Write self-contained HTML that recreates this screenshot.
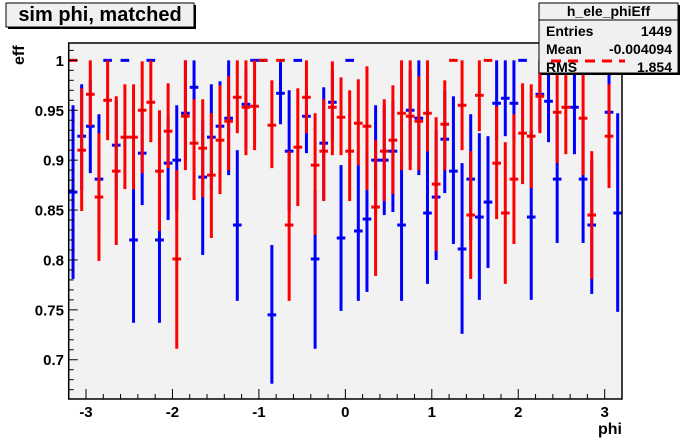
<!DOCTYPE html>
<html><head><meta charset="utf-8"><style>
html,body{margin:0;padding:0;background:#fff;}
svg{display:block;font-family:"Liberation Sans",Arial,sans-serif;font-weight:bold;}
</style></head><body>
<svg id="c" width="692" height="444" viewBox="0 0 692 444">
<rect x="68.7" y="43" width="553.3" height="356" fill="#f2f2f2"/>
<g id="marks"></g>
<rect x="68.7" y="43" width="553.3" height="356" fill="none" stroke="#000" stroke-width="1.5"/>
<g id="axes"></g>
<text x="24" y="65" font-size="16" transform="rotate(-90 24 65)" text-anchor="start">eff</text>
<text x="622" y="434" font-size="16" text-anchor="end">phi</text>
<g>
<rect x="8" y="5" width="188" height="24" fill="#000"/>
<rect x="6" y="3" width="188" height="24" fill="#f0f0f0" stroke="#000" stroke-width="1"/>
<text x="100" y="21" font-size="20" text-anchor="middle">sim phi, matched</text>
</g>
<g>
<rect x="541" y="5" width="139" height="70" fill="#000"/>
<rect x="539" y="3" width="139" height="70" fill="#f0f0f0" stroke="#000" stroke-width="1"/>
<line x1="539" y1="20" x2="678" y2="20" stroke="#000" stroke-width="1"/>
<text x="608.5" y="16" font-size="14" text-anchor="middle">h_ele_phiEff</text>
<text x="546" y="36" font-size="14">Entries</text>
<text x="672" y="36" font-size="14" text-anchor="end">1449</text>
<text x="546" y="54" font-size="14">Mean</text>
<text x="672" y="54" font-size="14" text-anchor="end">-0.004094</text>
<text x="546" y="72" font-size="14">RMS</text>
<text x="672" y="72" font-size="14" text-anchor="end">1.854</text>
</g>
</svg>
<script>
const phi = [-3.15,-3.05,-2.95,-2.85,-2.75,-2.65,-2.55,-2.45,-2.35,-2.25,-2.15,-2.05,-1.95,-1.85,-1.75,-1.65,-1.55,-1.45,-1.35,-1.25,-1.15,-1.05,-0.95,-0.85,-0.75,-0.65,-0.55,-0.45,-0.35,-0.25,-0.15,-0.05,0.05,0.15,0.25,0.35,0.45,0.55,0.65,0.75,0.85,0.95,1.05,1.15,1.25,1.35,1.45,1.55,1.65,1.75,1.85,1.95,2.05,2.15,2.25,2.35,2.45,2.55,2.65,2.75,2.85,2.95,3.05,3.15];
const blueVal = [.868,.924,.934,.881,1,.915,1,.820,.907,1,.820,.897,.900,.947,.973,.883,.923,.934,.942,.835,.956,1,1,.745,.967,.909,1,.944,.801,.917,.958,.822,1,.829,.841,.900,.900,.909,.835,.950,.942,.847,.863,.921,.889,.811,.881,.843,.858,.957,.962,.957,1,.843,.966,.959,.881,1,.953,.881,.835,1,.948,.847];
const blueLo = [.781,.87,.887,.83,1,.86,1,.737,.855,1,.737,.840,.850,.90,.93,.805,.87,.885,.885,.759,.91,1,1,.676,.936,.85,1,.907,.711,.86,.92,.749,1,.759,.768,.845,.845,.848,.759,.90,.885,.776,.80,.867,.816,.726,.82,.760,.792,.92,.924,.92,1,.760,.93,.918,.817,1,.906,.817,.766,1,.89,.748];
const blueHi = [.955,.976,.98,.946,1,.96,1,.871,.95,1,.87,.945,.955,1,1,.94,.976,.979,1,.910,.99,1,1,.815,1,.97,1,.973,.87,.973,.99,.895,1,.895,.91,.955,.955,.96,.910,.99,1,.909,.93,.97,.964,.897,.946,.927,.924,1,1,1,1,.93,1,1,.945,1,1,.945,.90,1,.99,.947];
const redVal = [1,.910,.966,.863,.960,.889,.923,.923,.950,.958,.889,.929,.801,.944,.917,.912,.885,.920,.939,.963,.953,.954,1,.935,1,.835,.913,.963,.895,.909,.953,.943,.909,.937,.934,.853,.909,.920,.947,.944,.939,.947,.876,.936,1,.955,.845,.965,1,.897,.847,.881,.927,.924,.964,1,.948,.953,1,.942,.845,1,.924,1];
const redLo = [1,.849,.934,.799,.920,.815,.871,.871,.887,.918,.829,.892,.711,.890,.860,.863,.822,.866,.89,.927,.905,.910,1,.892,1,.759,.854,.927,.825,.859,.905,.905,.859,.895,.870,.784,.859,.866,.890,.890,.89,.909,.809,.89,1,.910,.781,.929,1,.841,.776,.816,.876,.872,.927,1,.897,.906,1,.885,.781,1,.872,1];
const redHi = [1,.972,1,.927,1,.964,.976,.976,.999,1,.950,.977,.890,1,.961,.961,.947,.975,.984,1,1,1,1,.980,1,.909,.972,1,.947,.961,.999,.983,.970,.981,.994,.920,.961,.975,1,1,.984,1,.943,.980,1,1,.909,1,1,.954,.918,.946,.977,.976,1,1,1,1,1,1,.909,1,.976,1];
const yTickLabels = ["0.7","0.75","0.8","0.85","0.9","0.95","1"];
const xTickLabels = ["-3","-2","-1","0","1","2","3"];

const NS="http://www.w3.org/2000/svg";
const X0=68.7, X1=622, Y0=43, Y1=399;
const xmin=-3.2, xmax=3.2;
const ymin=0.66066, ymax=1.01739;
function xs(v){return X0+(v-xmin)/(xmax-xmin)*(X1-X0);}
function ys(v){return Y1-(v-ymin)/(ymax-ymin)*(Y1-Y0);}
const bw=(xs(0.1)-xs(0));
function mk(tag,attrs,parent){const e=document.createElementNS(NS,tag);for(const k in attrs)e.setAttribute(k,attrs[k]);parent.appendChild(e);return e;}
const marks=document.getElementById('marks');
const axes=document.getElementById('axes');
function series(vals,lo,hi,color,name){
  const g=mk('g',{},marks);
  
  
  for(let i=0;i<phi.length;i++){
    const cx=xs(phi[i]);
    if(hi[i]>lo[i]){
      const bar=mk('rect',{x:cx-1.5,y:ys(hi[i]),width:3,height:ys(lo[i])-ys(hi[i]),fill:color},g);
      
      
    }
    const m=mk('rect',{x:cx-bw/2,y:ys(vals[i])-1.5,width:bw,height:3,fill:color},g);
    
    
    const d=mk('rect',{x:cx-0.5,y:ys(vals[i])-0.5,width:1,height:1,fill:'#000'},g);
    
    
  }
}
series(blueVal,blueLo,blueHi,'#0000ff','blue');
series(redVal,redLo,redHi,'#ff0000','red');

// y ticks
for(let k=0;k<=35;k++){
  const v=0.67+k*0.01; if(v>ymax)break;
  const major=(k%5===3);
  const t=mk('line',{x1:X0,x2:X0+(major?9:5),y1:ys(v),y2:ys(v),stroke:'#000','stroke-width':1},axes);
  
  
}
for(let i=0;i<yTickLabels.length;i++){
  const v=parseFloat(yTickLabels[i]);
  const t=mk('text',{x:64,y:ys(v)+5.5,'font-size':15,'text-anchor':'end'},axes);
  t.textContent=yTickLabels[i];
  
  
}
// x ticks
for(let k=-16;k<=16;k++){
  const v=k*0.2; if(v<xmin||v>xmax)continue;
  const major=(k%5===0);
  const t=mk('line',{x1:xs(v),x2:xs(v),y1:Y1,y2:Y1-(major?10:5),stroke:'#000','stroke-width':1},axes);
  
  
}
for(let i=0;i<xTickLabels.length;i++){
  const v=parseFloat(xTickLabels[i]);
  const t=mk('text',{x:xs(v),y:417,'font-size':15,'text-anchor':'middle'},axes);
  t.textContent=xTickLabels[i];
  
  
}
// legend marker in stats box
const lg=mk('line',{x1:551,x2:625,y1:61,y2:61,stroke:'#ff0000','stroke-width':3,'stroke-dasharray':'10 7'},document.getElementById('c'));


</script>
</body></html>
